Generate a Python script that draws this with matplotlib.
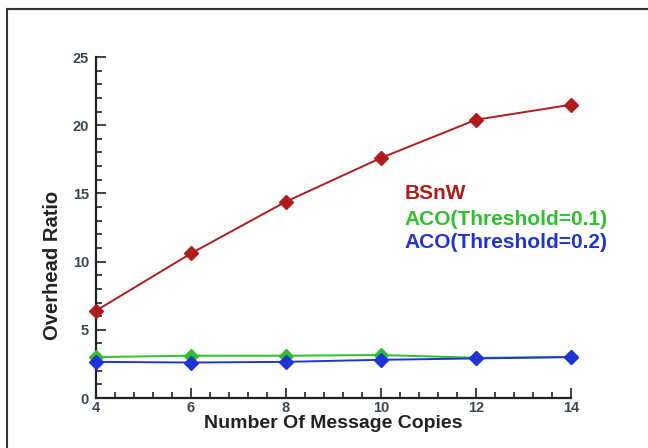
import numpy as np
import matplotlib
matplotlib.use("Agg")
import matplotlib.pyplot as plt
from matplotlib.ticker import MultipleLocator
from matplotlib.lines import Line2D

copies = [4, 6, 8, 10, 12, 14]
bsnw = [6.4, 10.6, 14.4, 17.6, 20.4, 21.5]
aco_01 = [3.0, 3.1, 3.1, 3.15, 2.95, 3.0]
aco_02 = [2.65, 2.6, 2.65, 2.8, 2.9, 3.0]

labels = ["BSnW", "ACO(Threshold=0.1)", "ACO(Threshold=0.2)"]
colors = ["#b01c1c", "#2ec02e", "#2233d6"]

plt.rcParams['font.family'] = ['Liberation Sans', 'DejaVu Sans']

fig = plt.figure(figsize=(6.48, 4.48), dpi=100)
ax = fig.add_axes([96/648, 1-398/448, (571-96)/648, (398-57)/448])

for ys, c in zip([bsnw, aco_01, aco_02], colors):
    ax.plot(copies, ys, color=c, lw=1.4, marker='D', markersize=7,
            markerfacecolor=c, markeredgecolor=c, clip_on=False, zorder=3)

ax.set_xlim(4, 14)
ax.set_ylim(0, 25)
ax.xaxis.set_major_locator(MultipleLocator(2))
ax.xaxis.set_minor_locator(MultipleLocator(0.4))
ax.yaxis.set_major_locator(MultipleLocator(5))
ax.yaxis.set_minor_locator(MultipleLocator(1))
ax.tick_params(which='both', direction='in', width=1.2, color='#222222',
               labelsize=10.5, labelcolor='#3a4656')
ax.tick_params(which='major', length=7)
ax.tick_params(which='minor', length=4)
ax.tick_params(axis='x', pad=2)
ax.tick_params(axis='y', pad=5)
for t in ax.get_xticklabels() + ax.get_yticklabels():
    t.set_fontweight('bold')
for s in ['top', 'right']:
    ax.spines[s].set_visible(False)
for s in ['left', 'bottom']:
    ax.spines[s].set_linewidth(1.6)
    ax.spines[s].set_color('#222222')

ax.set_xlabel("Number Of Message Copies", fontsize=14, fontweight='bold',
              color='#222222', labelpad=0)
ax.set_ylabel("Overhead Ratio", fontsize=14.5, fontweight='bold',
              color='#222222')
ax.yaxis.set_label_coords(-0.072, 0.39)

for lab, c, ty in zip(labels, colors, [15.0, 13.1, 11.4]):
    ax.text(10.5, ty, lab, color=c, fontsize=15, fontweight='bold',
            va='center', ha='left')

# picture frame
fig.add_artist(Line2D([7/648, 7/648], [0, 1-9/448], color='#333333', lw=1.5,
                      transform=fig.transFigure))
fig.add_artist(Line2D([7/648, 1], [1-9/448, 1-9/448], color='#333333', lw=1.5,
                      transform=fig.transFigure))

fig.savefig("out.png", dpi=100)
